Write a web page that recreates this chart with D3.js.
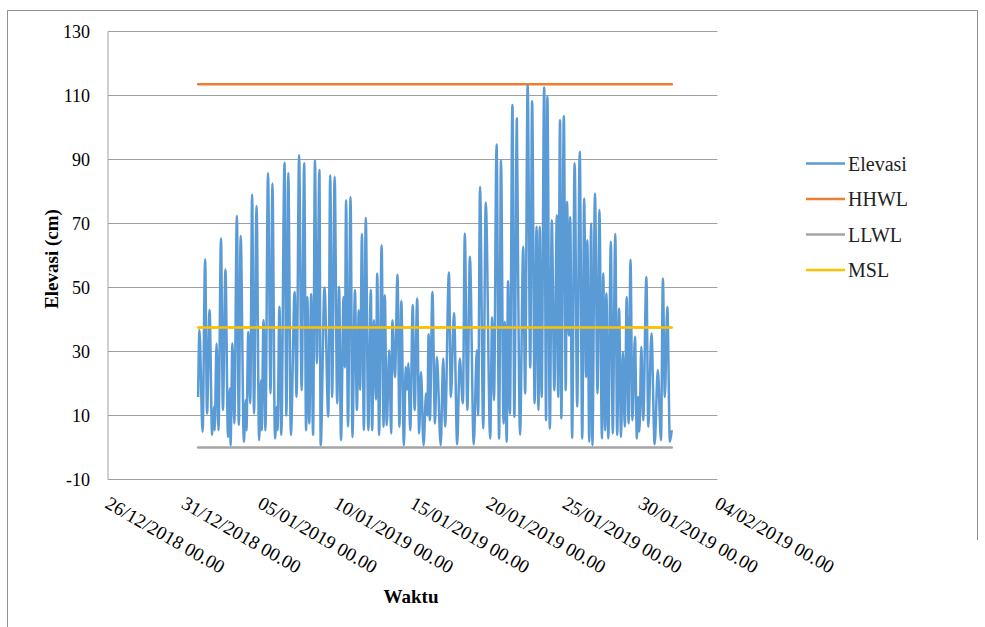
<!DOCTYPE html>
<html>
<head>
<meta charset="utf-8">
<script src="https://cdn.jsdelivr.net/npm/d3@7"></script>
<style>
  body { margin: 0; background: #fff; }
  svg { display: block; }
  text { font-family: "Liberation Serif", "Times New Roman", serif; }
</style>
</head>
<body>
<svg width="985" height="627"></svg>
<script>
// Elevasi: turning points of the hourly record, hours counted from 01/01/2019 00.00
const elevHours = [
  -2, 0, 5, 9, 12, 16, 20, 23, 24, 27, 30, 34, 37, 41, 45, 48, 49, 52, 55, 59,
  62, 65, 70, 73, 74, 77, 80, 83, 86, 90, 94, 97, 98, 101, 104, 108, 112, 115, 119, 122,
  123, 126, 129, 134, 137, 140, 144, 150, 153, 157, 161, 165, 168, 170, 173, 176, 179, 182, 185, 189,
  191, 197, 203, 206, 209, 213, 217, 220, 223, 227, 229, 231, 234, 238, 241, 245, 248, 251, 253, 256,
  259, 262, 266, 270, 272, 275, 278, 280, 283, 287, 290, 292, 295, 299, 302, 304, 308, 312, 315, 318,
  322, 325, 327, 329, 332, 336, 339, 343, 346, 349, 353, 357, 359, 361, 363, 367, 371, 374, 380, 384,
  387, 393, 396, 401, 406, 410, 415, 418, 422, 426, 432, 437, 439, 442, 447, 451, 458, 461, 464, 468,
  472, 475, 479, 481, 484, 486, 489, 493, 496, 500, 502, 505, 510, 513, 517, 521, 524, 528, 531, 534,
  536, 539, 543, 546, 548, 552, 555, 559, 563, 565, 568, 570, 574, 577, 579, 582, 584, 587, 591, 595,
  599, 603, 606, 609, 611, 614, 617, 619, 623, 627, 630, 634, 636, 639, 641, 644, 648, 651, 655, 658,
  661, 664, 667, 670, 673, 676, 679, 682, 686, 689, 691, 693, 696, 699, 704, 707, 712, 717, 722, 727,
  730, 733, 737, 741, 744
];
const elevValues = [
  15.8, 36.7, 4.9, 58.8, 10.6, 43, 3.9, 12.7, 5.4, 32.5, 5.4, 65.3, 11.7, 55.6, 3.3, 18.4, 0.7, 32.5, 7.5, 72.4,
  7, 66.1, 1.8, 14.8, 5.4, 36.1, 13.8, 79.1, 10.6, 75.5, 2.3, 21, 5.4, 39.8, 5.4, 85.8, 16.9, 82.5, 2.8, 12.7,
  5.4, 44, 3.9, 89, 10, 85.8, 3.9, 48.6, 15.8, 91.4, 17.9, 88.8, 5.4, 47, 7.5, 48, 3.9, 89.8, 26.3, 86.7,
  0.7, 50, 9.6, 85.1, 15.8, 84.6, 13.8, 50.2, 2.3, 47, 25, 77.3, 6.5, 78.3, 3.3, 49.2, 11.7, 42.9, 18, 66.7,
  5.4, 71.8, 5.4, 49.2, 5.4, 39.8, 15, 54.4, 3.9, 63.2, 6.5, 47.6, 7, 30.4, 4.4, 39.8, 22, 54, 6.5, 45.8,
  0.7, 25.2, 18, 26.3, 5.4, 44.5, 11.7, 46.6, 4.4, 23.6, 0.7, 16.9, 10, 35.4, 8.5, 48.6, 7.5, 28.3, 0.7, 27.8,
  6.5, 54.7, 15.8, 42, 1, 27.8, 13.8, 66.9, 11.7, 59.6, 1, 30.4, 10, 81.5, 5.9, 76.6, 2.8, 40.7, 14.8, 94.7,
  2.8, 89.8, 7.5, 39.2, 1.8, 52, 10.6, 107, 9.6, 102.8, 53, 4, 62.7, 16.9, 113.2, 25, 108.2, 13.8, 69, 11.7,
  69, 15.8, 112.5, 8.5, 109.6, 5.9, 71, 17.9, 72.6, 15.8, 102.3, 9.1, 103.5, 17.9, 76.8, 35, 72, 3, 88.8, 12.7,
  92.4, 2.8, 77.8, 22, 64.8, 1.8, 70, 0.7, 79.4, 16.9, 74.2, 2.8, 54.4, 5.4, 48.1, 2.8, 64.3, 4.4, 66.7, 3.9,
  43.4, 3.3, 29.9, 6.5, 47, 7.5, 58.7, 8.5, 34.6, 2.8, 15.8, 5, 31.5, 8.5, 53.3, 6.5, 35.6, 1, 24.2, 2.3,
  52.8, 15.8, 44, 1.8, 5.4
];

// reference levels (cm)
const levelNames = ["HHWL", "LLWL", "MSL"];
const levelValues = [113.5, 0, 37.5];

const legendNames = ["Elevasi", "HHWL", "LLWL", "MSL"];
const yTicks = [-10, 10, 30, 50, 70, 90, 110, 130];
const xTickLabels = ["26/12/2018", "31/12/2018", "05/01/2019", "10/01/2019", "15/01/2019",
                     "20/01/2019", "25/01/2019", "30/01/2019", "04/02/2019"];

const colors = {Elevasi: "#5b9bd5", HHWL: "#ed7d31", LLWL: "#a5a5a5", MSL: "#ffc000"};

const parseDay = d3.timeParse("%d/%m/%Y");
const fmt = d3.timeFormat("%d/%m/%Y %H.%M");
const base = new Date(2019, 0, 1);
const data = elevHours.map((h, i) => ({t: d3.timeHour.offset(base, h), v: elevValues[i]}));
const xTicks = xTickLabels.map(parseDay);

const svg = d3.select("svg");

// outer chart frame
svg.append("path")
    .attr("d", "M7.5,627 V10.5 H977.5 V540")
    .attr("fill", "none")
    .attr("stroke", "#8f8f8f")
    .attr("stroke-width", 1);

const x = d3.scaleTime()
    .domain([xTicks[0], xTicks[xTicks.length - 1]])
    .range([108, 717.5]);
const y = d3.scaleLinear()
    .domain([-10, 130])
    .range([479.5, 31.5]);

// gridlines
svg.append("g")
  .selectAll("line")
  .data(yTicks)
  .enter()
  .append("line")
    .attr("x1", x.range()[0])
    .attr("x2", x.range()[1])
    .attr("y1", d => y(d))
    .attr("y2", d => y(d))
    .attr("stroke", "#a0a0a0")
    .attr("stroke-width", 1);

// vertical axis line
svg.append("line")
    .attr("x1", 108).attr("x2", 108)
    .attr("y1", y(130)).attr("y2", y(-10))
    .attr("stroke", "#a0a0a0");

// Y tick labels
svg.append("g")
  .selectAll("text")
  .data(yTicks)
  .enter()
  .append("text")
    .attr("x", 90)
    .attr("y", d => y(d))
    .attr("dy", "0.35em")
    .attr("text-anchor", "end")
    .attr("font-size", 18)
    .text(d => d);

// X tick labels (rotated)
svg.append("g")
  .selectAll("text")
  .data(xTicks)
  .enter()
  .append("text")
    .attr("transform", d => `translate(${x(d) - 4},507) rotate(30)`)
    .attr("font-size", 19)
    .text(d => fmt(d));

// reference levels
const t0 = data[0].t, t1 = data[data.length - 1].t;
levelNames.forEach((name, i) => {
  svg.append("line")
      .attr("x1", x(t0)).attr("x2", x(t1))
      .attr("y1", y(levelValues[i])).attr("y2", y(levelValues[i]))
      .attr("stroke", colors[name])
      .attr("stroke-width", 2.5)
      .attr("stroke-linecap", "round");
});

// Elevasi series
const line = d3.line()
    .x(d => x(d.t))
    .y(d => y(d.v))
    .curve(d3.curveMonotoneX);

svg.append("path")
    .datum(data)
    .attr("d", line)
    .attr("fill", "none")
    .attr("stroke", colors.Elevasi)
    .attr("stroke-width", 2.5)
    .attr("stroke-linejoin", "round");

// MSL drawn over the series
svg.append("line")
    .attr("x1", x(t0)).attr("x2", x(t1))
    .attr("y1", y(levelValues[2])).attr("y2", y(levelValues[2]))
    .attr("stroke", colors.MSL)
    .attr("stroke-width", 2.5);

// axis titles
svg.append("text")
    .attr("transform", "translate(58,259) rotate(-90)")
    .attr("text-anchor", "middle")
    .attr("font-size", 19)
    .attr("font-weight", "bold")
    .text("Elevasi (cm)");

svg.append("text")
    .attr("x", 411)
    .attr("y", 603)
    .attr("text-anchor", "middle")
    .attr("font-size", 19)
    .attr("font-weight", "bold")
    .text("Waktu");

// legend
const legend = svg.append("g")
  .selectAll("g")
  .data(legendNames)
  .enter()
  .append("g")
    .attr("transform", (d, i) => `translate(806,${163.5 + i * 35.5})`);

legend.append("line")
    .attr("x1", 0).attr("x2", 39)
    .attr("stroke", d => colors[d])
    .attr("stroke-width", 2.5);

legend.append("text")
    .attr("x", 42)
    .attr("dy", "0.35em")
    .attr("font-size", 20)
    .attr("fill", "#222")
    .text(d => d);
</script>
</body>
</html>
